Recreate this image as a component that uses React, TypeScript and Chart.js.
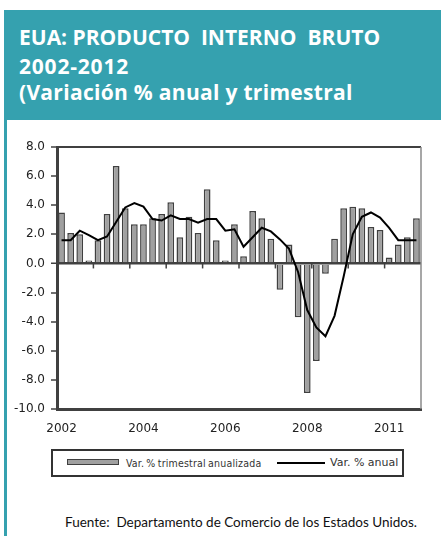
import React, { useEffect, useRef } from "react";
import { Chart, registerables } from "chart.js";

Chart.register(...registerables);

// 2002Q1 .. 2011Q4 (category labels are the year of each quarter)
const years = [
  "2002", "2002", "2002", "2002",
  "2003", "2003", "2003", "2003",
  "2004", "2004", "2004", "2004",
  "2005", "2005", "2005", "2005",
  "2006", "2006", "2006", "2006",
  "2007", "2007", "2007", "2007",
  "2008", "2008", "2008", "2008",
  "2009", "2009", "2009", "2009",
  "2010", "2010", "2010", "2010",
  "2011", "2011", "2011", "2011",
];

// Var. % trimestral anualizada (bars)
const quarterly = [
  3.5, 2.1, 2.0, 0.2,
  1.6, 3.4, 6.7, 3.8,
  2.7, 2.7, 3.1, 3.4,
  4.2, 1.8, 3.2, 2.1,
  5.1, 1.6, 0.2, 2.7,
  0.5, 3.6, 3.1, 1.7,
  -1.8, 1.3, -3.7, -8.9,
  -6.7, -0.7, 1.7, 3.8,
  3.9, 3.8, 2.5, 2.3,
  0.4, 1.3, 1.8, 3.1,
];

// Var. % anual (line)
const annual = [
  1.6, 1.6, 2.25, 1.95,
  1.6, 1.85, 2.85, 3.85,
  4.15, 3.9, 3.05, 2.95,
  3.3, 3.05, 3.05, 2.8,
  3.05, 3.05, 2.25, 2.35,
  1.15, 1.8, 2.45, 2.2,
  1.65, 1.0, -0.6, -3.2,
  -4.4, -5.0, -3.6, -0.9,
  2.0, 3.2, 3.5, 3.15,
  2.45, 1.6, 1.6, 1.6,
];

const yTicks = { min: -10, max: 8, step: 2 };
const labelEvery = 9;
const tickEvery = 4;

const TEAL = "#35A1AF";
const AXIS = "#404040";

const framePlugin = {
  id: "frame",
  beforeDatasetsDraw(chart: any) {
    const { ctx, scales } = chart;
    const xs = scales.x;
    const ys = scales.y;
    const y0 = ys.getPixelForValue(0);
    ctx.save();
    ctx.strokeStyle = AXIS;
    ctx.lineWidth = 1.5;
    for (let k = tickEvery; k < years.length; k += tickEvery) {
      const x = (xs.getPixelForValue(k - 1) + xs.getPixelForValue(k)) / 2;
      ctx.beginPath();
      ctx.moveTo(x, y0);
      ctx.lineTo(x, y0 + 5);
      ctx.stroke();
    }
    ctx.restore();
  },
  afterDraw(chart: any) {
    const { ctx, chartArea } = chart;
    ctx.save();
    ctx.strokeStyle = AXIS;
    ctx.lineWidth = 2;
    ctx.beginPath();
    ctx.moveTo(chartArea.left, chartArea.top);
    ctx.lineTo(chartArea.right, chartArea.top);
    ctx.stroke();
    ctx.strokeStyle = "#8a8a8a";
    ctx.lineWidth = 1.5;
    ctx.beginPath();
    ctx.moveTo(chartArea.right, chartArea.top);
    ctx.lineTo(chartArea.right, chartArea.bottom);
    ctx.stroke();
    ctx.restore();
  },
};

function GdpChart() {
  const ref = useRef<HTMLCanvasElement | null>(null);
  useEffect(() => {
    if (!ref.current) return;
    const chart = new Chart(ref.current, {
      data: {
        labels: years,
        datasets: [
          {
            type: "line",
            label: "Var. % anual",
            data: annual,
            borderColor: "#000",
            borderWidth: 2,
            pointRadius: 0,
            tension: 0,
            order: 1,
          } as any,
          {
            type: "bar",
            label: "Var. % trimestral anualizada",
            data: quarterly,
            backgroundColor: "#A0A0A0",
            borderColor: AXIS,
            borderWidth: 1.5,
            barPercentage: 0.74,
            categoryPercentage: 1,
            order: 2,
          } as any,
        ],
      },
      options: {
        responsive: false,
        animation: false,
        devicePixelRatio: 1,
        layout: { padding: { left: 0, right: 20, top: 17, bottom: 0 } },
        plugins: { legend: { display: false }, tooltip: { enabled: false } },
        scales: {
          x: {
            offset: true,
            grid: { display: true, drawOnChartArea: false, drawTicks: false },
            border: { display: true, color: AXIS, width: 3 },
            ticks: {
              autoSkip: false,
              maxRotation: 0,
              minRotation: 0,
              padding: 13,
              color: "#222",
              font: { family: "DejaVu Sans", size: 12 },
              callback: (_v: any, i: number) => (i % labelEvery === 0 ? years[i] : ""),
            },
            afterFit: (s: any) => {
              s.height = 31;
            },
          },
          y: {
            min: yTicks.min,
            max: yTicks.max,
            ticks: {
              stepSize: yTicks.step,
              padding: 6,
              color: "#222",
              font: { family: "DejaVu Sans", size: 12 },
              callback: (v: any) => Number(v).toFixed(1),
            },
            grid: {
              color: (c: any) => (c.tick && c.tick.value === 0 ? AXIS : "rgba(0,0,0,0)"),
              lineWidth: (c: any) => (c.tick && c.tick.value === 0 ? 2.5 : 0),
              tickColor: AXIS,
              tickWidth: 1.5,
              tickLength: 6,
              drawTicks: true,
            },
            border: { display: true, color: AXIS, width: 3 },
            afterFit: (s: any) => {
              s.width = 57;
            },
          },
        },
      } as any,
      plugins: [framePlugin],
    });
    return () => chart.destroy();
  }, []);
  return (
    <canvas
      ref={ref}
      width={441}
      height={310}
      style={{ position: "absolute", left: 0, top: 130, width: 441, height: 310 }}
    />
  );
}

export default function App() {
  const titleStyle: React.CSSProperties = {
    position: "absolute",
    left: 14,
    color: "#fff",
    fontFamily: "'Open Sans', sans-serif",
    fontWeight: 700,
    fontSize: 21,
    lineHeight: "24px",
    whiteSpace: "pre",
    margin: 0,
  };
  const legendText: React.CSSProperties = {
    position: "absolute",
    top: 5,
    color: "#333",
    whiteSpace: "pre",
    lineHeight: "14px",
  };
  return (
    <div style={{ position: "absolute", left: 0, top: 0, width: 441, height: 536, overflow: "hidden", background: "#fff" }}>
      <div style={{ position: "absolute", left: 4, top: 10, width: 3, height: 526, background: TEAL }} />
      <div style={{ position: "absolute", left: 5, top: 10, width: 436, height: 110, background: TEAL }}>
        <div style={{ ...titleStyle, top: 15 }}>{"EUA: PRODUCTO  INTERNO  BRUTO"}</div>
        <div style={{ ...titleStyle, top: 44, letterSpacing: 0.8 }}>{"2002-2012"}</div>
        <div style={{ ...titleStyle, top: 70, letterSpacing: 0.3 }}>{"(Variación % anual y trimestral"}</div>
      </div>
      <GdpChart />
      <div
        style={{
          position: "absolute",
          left: 51,
          top: 449,
          width: 349,
          height: 24,
          border: "2px solid #333",
          background: "#fff",
        }}
      >
        <div
          style={{
            position: "absolute",
            left: 14,
            top: 8,
            width: 50,
            height: 4,
            background: "#A0A0A0",
            border: "1.5px solid #404040",
          }}
        />
        <div
          style={{
            ...legendText,
            left: 73,
            fontSize: 10.5,
            letterSpacing: 0.2,
            wordSpacing: -1,
            fontFamily: "'DejaVu Sans Condensed', 'DejaVu Sans', sans-serif",
          }}
        >
          {"Var. % trimestral anualizada"}
        </div>
        <div style={{ position: "absolute", left: 224, top: 11, width: 48, height: 2, background: "#000" }} />
        <div style={{ ...legendText, left: 277, fontSize: 11, fontFamily: "'DejaVu Sans', sans-serif" }}>{"Var. % anual"}</div>
      </div>
      <div
        style={{
          position: "absolute",
          left: 65,
          top: 514,
          fontFamily: "Lato, sans-serif",
          fontSize: 13.5,
          color: "#111",
          whiteSpace: "pre",
          lineHeight: "16px",
        }}
      >
        {"Fuente:  Departamento de Comercio de los Estados Unidos."}
      </div>
    </div>
  );
}
